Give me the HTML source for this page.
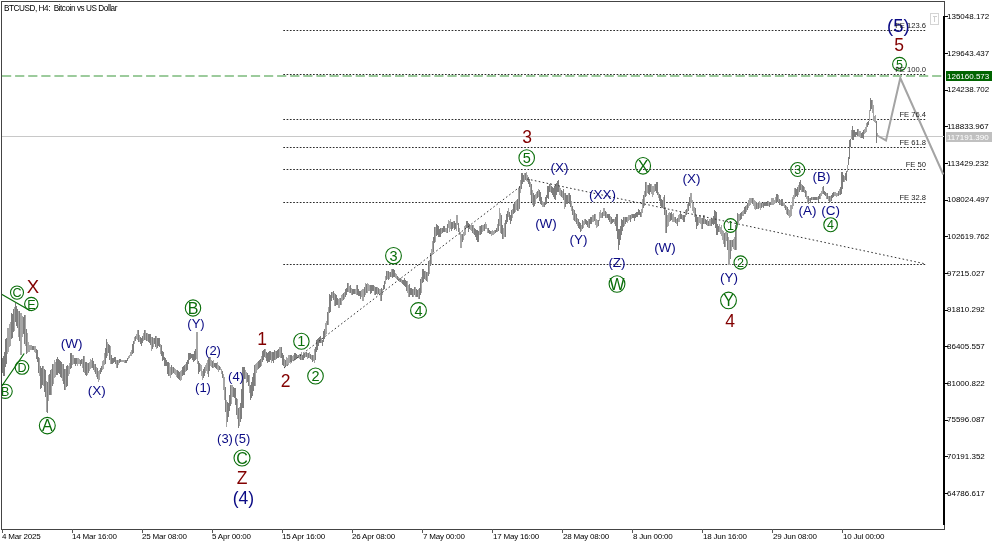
<!DOCTYPE html><html><head><meta charset="utf-8"><style>
*{margin:0;padding:0;box-sizing:border-box}
html,body{width:1000px;height:545px;overflow:hidden;background:#fff;font-family:"Liberation Sans",sans-serif}
.a{position:absolute;white-space:nowrap;line-height:1;will-change:transform}
.ax{font-size:8px;color:#000}
.nv{color:#0c0c86;font-size:13px}
.rd{color:#7d0000;font-size:17.5px}
.cg{position:absolute;border:1px solid #0a700a;border-radius:50%;color:#0a700a;text-align:center}
</style></head><body>
<svg width="1000" height="545" style="position:absolute;left:0;top:0;will-change:transform" shape-rendering="crispEdges">
<path d="M1.5 1.5H944.5V529.5H1.5Z" fill="none" stroke="#444" stroke-width="1"/>
<path d="M944 16V525" stroke="#000" stroke-width="2"/>
<path d="M945 16.5H948" stroke="#000" stroke-width="1"/>
<path d="M945 53.5H948" stroke="#000" stroke-width="1"/>
<path d="M945 90.5H948" stroke="#000" stroke-width="1"/>
<path d="M945 126.5H948" stroke="#000" stroke-width="1"/>
<path d="M945 163.5H948" stroke="#000" stroke-width="1"/>
<path d="M945 200.5H948" stroke="#000" stroke-width="1"/>
<path d="M945 236.5H948" stroke="#000" stroke-width="1"/>
<path d="M945 273.5H948" stroke="#000" stroke-width="1"/>
<path d="M945 310.5H948" stroke="#000" stroke-width="1"/>
<path d="M945 346.5H948" stroke="#000" stroke-width="1"/>
<path d="M945 383.5H948" stroke="#000" stroke-width="1"/>
<path d="M945 420.5H948" stroke="#000" stroke-width="1"/>
<path d="M945 456.5H948" stroke="#000" stroke-width="1"/>
<path d="M945 493.5H948" stroke="#000" stroke-width="1"/>
<path d="M2.5 529V532.5" stroke="#555" stroke-width="1"/>
<path d="M72.5 529V532.5" stroke="#555" stroke-width="1"/>
<path d="M142.5 529V532.5" stroke="#555" stroke-width="1"/>
<path d="M212.5 529V532.5" stroke="#555" stroke-width="1"/>
<path d="M282.5 529V532.5" stroke="#555" stroke-width="1"/>
<path d="M352.5 529V532.5" stroke="#555" stroke-width="1"/>
<path d="M422.5 529V532.5" stroke="#555" stroke-width="1"/>
<path d="M492.5 529V532.5" stroke="#555" stroke-width="1"/>
<path d="M562.5 529V532.5" stroke="#555" stroke-width="1"/>
<path d="M632.5 529V532.5" stroke="#555" stroke-width="1"/>
<path d="M702.5 529V532.5" stroke="#555" stroke-width="1"/>
<path d="M772.5 529V532.5" stroke="#555" stroke-width="1"/>
<path d="M842.5 529V532.5" stroke="#555" stroke-width="1"/>
<path d="M2 136.5H944" stroke="#c8c8c8" stroke-width="1"/>
<path d="M2 76H944" stroke="#9ccb9c" stroke-width="2" stroke-dasharray="9.2 3.9" shape-rendering="auto"/>
<path d="M283.3 30.5H926" stroke="#2c2c2c" stroke-width="1" stroke-dasharray="1.7 1.6" shape-rendering="auto"/>
<path d="M283.3 74.5H926" stroke="#2c2c2c" stroke-width="1" stroke-dasharray="1.7 1.6" shape-rendering="auto"/>
<path d="M283.3 119.5H926" stroke="#2c2c2c" stroke-width="1" stroke-dasharray="1.7 1.6" shape-rendering="auto"/>
<path d="M283.3 147.5H926" stroke="#2c2c2c" stroke-width="1" stroke-dasharray="1.7 1.6" shape-rendering="auto"/>
<path d="M283.3 169.5H926" stroke="#2c2c2c" stroke-width="1" stroke-dasharray="1.7 1.6" shape-rendering="auto"/>
<path d="M283.3 202.5H926" stroke="#2c2c2c" stroke-width="1" stroke-dasharray="1.7 1.6" shape-rendering="auto"/>
<path d="M283.3 264.5H926" stroke="#2c2c2c" stroke-width="1" stroke-dasharray="1.7 1.6" shape-rendering="auto"/>
<path d="M2.5 357.9V373.4M3.5 356.4V375.6M4.5 352.4V375.6M5.5 338.6V366.6M6.5 337.6V363.6M11.5 313.1V338.9M12.5 313.9V337.8M13.5 309.4V332.1M15.5 303.4V321.6M16.5 306.3V325.6M17.5 309.4V328.4M19.5 311.4V341.1M23.5 316.9V333.9M24.5 315.4V343.6M26.5 328.9V354.4M32.5 346.1V349.6M33.5 346.4V350.1M36.5 349.4V358.6M37.5 350.4V362.1M38.5 357.1V372.6M40.5 366.1V389.0M41.5 367.9V387.6M42.5 366.4V384.6M44.5 369.4V391.6M45.5 370.4V396.6M47.5 382.1V412.9M49.5 374.1V394.6M50.5 370.4V394.6M52.5 364.4V386.4M56.5 359.4V375.1M57.5 357.4V374.6M58.5 358.8V373.1M59.5 360.4V373.6M60.5 360.6V376.6M61.5 362.4V377.6M63.5 364.4V384.3M64.5 368.9V389.6M66.5 366.4V386.6M67.5 365.2V385.6M70.5 353.4V368.9M71.5 353.4V367.6M74.5 357.6V363.6M75.5 358.4V365.8M76.5 358.4V363.6M80.5 359.8V365.8M81.5 359.3V364.1M83.5 355.9V372.4M85.5 361.6V374.6M86.5 362.4V376.0M88.5 363.0V372.6M92.5 358.4V368.0M93.5 361.1V370.0M95.5 364.1V373.7M97.5 368.4V379.1M100.5 368.4V374.1M101.5 366.4V372.1M105.5 347.5V364.1M106.5 339.4V358.0M108.5 344.4V353.3M109.5 345.2V360.0M111.5 354.6V364.1M112.5 358.4V364.1M113.5 358.4V362.6M114.5 356.7V361.6M115.5 356.8V364.0M117.5 359.8V367.6M119.5 359.2V362.6M120.5 359.4V362.3M125.5 360.3V363.3M126.5 359.5V363.3M127.5 357.8V361.0M132.5 344.4V354.2M133.5 340.6V352.6M135.5 336.1V341.1M138.5 330.4V341.8M140.5 337.1V343.8M141.5 337.9V345.6M142.5 335.5V343.1M144.5 330.0V340.1M146.5 332.7V340.5M148.5 333.7V341.7M149.5 334.1V342.6M150.5 334.4V344.6M152.5 336.9V349.3M154.5 337.7V343.9M155.5 336.0V346.5M157.5 338.4V347.5M158.5 338.4V345.5M159.5 338.4V347.2M161.5 345.2V355.7M162.5 351.0V361.0M163.5 352.1V360.1M164.5 357.2V365.6M165.5 358.4V366.1M166.5 359.8V366.1M167.5 361.8V374.1M168.5 361.8V375.6M171.5 364.6V374.7M173.5 366.9V373.4M177.5 369.9V377.8M178.5 370.9V379.2M179.5 372.4V379.5M182.5 366.9V376.4M183.5 366.3V375.1M184.5 364.8V374.6M186.5 361.8V370.8M187.5 360.4V370.1M188.5 352.7V363.6M189.5 352.7V360.0M190.5 353.3V358.8M191.5 353.7V358.4M192.5 354.2V360.4M193.5 354.3V362.0M194.5 350.8V360.8M195.5 348.5V360.0M198.5 360.8V374.1M199.5 362.5V371.9M203.5 368.7V378.1M204.5 366.6V376.2M208.5 357.8V377.2M209.5 357.1V371.4M212.5 360.8V368.1M214.5 362.8V367.1M215.5 362.8V368.1M216.5 362.8V369.1M219.5 365.8V370.1M222.5 370.7V378.2M225.5 386.7V412.2M227.5 402.1V422.1M228.5 403.1V417.1M229.5 395.3V411.4M230.5 385.0V405.6M233.5 387.1V397.2M234.5 388.0V398.4M235.5 388.1V404.9M236.5 398.0V414.6M238.5 408.2V427.9M240.5 403.2V422.0M241.5 389.4V418.6M242.5 366.9V408.4M243.5 366.9V408.1M244.5 366.9V378.5M247.5 372.9V382.4M248.5 374.6V386.3M250.5 384.7V400.4M251.5 381.8V398.4M252.5 376.7V396.4M253.5 373.0V391.4M254.5 364.8V386.3M258.5 360.8V368.5M259.5 360.1V368.1M260.5 358.8V366.5M262.5 350.7V361.5M263.5 350.2V360.0M264.5 348.7V357.0M266.5 351.5V360.7M267.5 352.8V363.2M268.5 352.1V361.6M269.5 351.1V361.6M270.5 351.1V360.0M272.5 351.9V361.3M273.5 351.8V362.5M274.5 350.1V360.3M276.5 350.5V359.0M277.5 349.9V358.2M278.5 349.2V357.6M281.5 347.4V358.0M282.5 352.9V365.0M283.5 354.8V365.5M285.5 359.8V366.6M290.5 355.4V362.4M291.5 354.8V361.7M294.5 353.0V359.9M295.5 353.0V359.6M296.5 354.0V358.5M298.5 354.5V358.3M300.5 353.9V359.6M302.5 354.6V359.6M303.5 354.3V359.6M304.5 353.4V358.2M306.5 352.1V357.0M308.5 352.9V357.6M310.5 354.2V359.0M312.5 354.8V361.6M315.5 346.9V359.6M316.5 340.1V352.3M317.5 339.4V350.3M318.5 338.2V346.0M319.5 337.4V343.0M320.5 336.4V342.7M322.5 339.5V346.4M323.5 331.0V341.5M324.5 328.6V339.3M327.5 312.4V325.0M329.5 294.1V313.0M330.5 294.5V311.8M331.5 292.4V300.7M333.5 290.6V300.1M335.5 294.2V306.3M336.5 295.1V305.0M337.5 297.9V305.4M340.5 297.9V305.0M343.5 293.3V299.9M345.5 288.7V296.8M346.5 287.6V295.3M347.5 283.2V292.1M350.5 284.9V293.0M352.5 289.4V294.6M353.5 289.4V294.2M354.5 289.4V293.9M357.5 285.2V294.8M358.5 289.2V295.6M359.5 291.4V295.8M360.5 291.4V298.8M364.5 286.8V296.9M366.5 284.0V293.4M370.5 285.2V294.1M371.5 285.2V292.6M372.5 285.2V291.4M373.5 285.2V291.0M375.5 287.2V294.6M376.5 287.2V293.5M378.5 288.4V293.8M381.5 287.8V300.6M383.5 284.8V290.4M384.5 280.7V288.5M386.5 271.1V280.4M388.5 271.1V280.0M390.5 272.1V277.4M392.5 269.1V278.1M393.5 269.1V276.8M394.5 269.9V277.4M397.5 276.0V280.3M400.5 278.1V282.4M402.5 279.7V284.4M403.5 280.2V284.7M404.5 277.8V285.5M405.5 280.2V286.8M406.5 280.9V290.5M409.5 284.3V296.6M410.5 287.6V295.2M411.5 288.2V295.0M412.5 288.9V296.6M414.5 287.2V295.3M416.5 289.2V296.6M417.5 290.1V296.9M419.5 287.7V298.6M420.5 279.2V294.7M422.5 269.1V282.7M423.5 269.1V282.0M424.5 270.8V278.8M426.5 272.4V281.2M428.5 260.7V276.4M430.5 252.8V266.3M433.5 237.1V252.2M434.5 226.7V242.5M436.5 224.3V235.9M437.5 225.4V235.2M438.5 226.3V236.7M439.5 228.8V236.7M440.5 227.7V236.7M442.5 227.6V233.1M443.5 226.3V231.5M444.5 226.3V231.7M447.5 223.6V232.5M451.5 222.2V231.0M452.5 222.3V228.5M454.5 220.9V229.5M455.5 222.6V229.3M458.5 222.8V232.0M462.5 233.8V242.4M466.5 220.9V228.4M467.5 220.9V228.4M468.5 222.8V231.5M469.5 223.7V229.3M472.5 224.5V233.1M474.5 228.2V235.0M475.5 229.3V236.7M476.5 230.0V239.5M477.5 229.8V242.2M478.5 230.7V242.2M480.5 225.7V235.0M481.5 224.5V233.9M484.5 224.4V231.2M488.5 228.2V233.4M489.5 229.9V234.0M490.5 230.7V234.2M495.5 229.5V233.1M496.5 228.2V232.2M498.5 219.0V231.2M501.5 215.3V234.0M502.5 224.6V238.7M505.5 219.7V236.7M506.5 213.5V223.7M507.5 211.1V222.1M509.5 211.9V220.4M510.5 215.0V223.8M511.5 209.8V220.5M513.5 204.3V214.4M514.5 203.4V212.8M517.5 198.8V211.1M519.5 186.4V209.2M521.5 173.2V189.1M522.5 173.2V183.6M523.5 174.6V182.1M525.5 173.2V180.1M528.5 176.7V184.1M529.5 178.5V187.2M531.5 184.2V202.1M533.5 193.3V207.3M534.5 194.6V206.1M537.5 191.0V198.2M539.5 189.8V200.7M540.5 191.8V203.7M541.5 197.0V205.1M544.5 201.9V207.3M545.5 197.0V204.9M546.5 194.6V203.7M547.5 186.0V198.0M548.5 185.5V198.6M549.5 184.2V191.7M551.5 185.9V192.7M552.5 186.9V194.5M553.5 187.7V196.5M554.5 185.8V198.5M555.5 184.0V200.1M556.5 182.8V194.6M557.5 181.4V192.0M558.5 179.5V191.5M561.5 189.8V196.5M563.5 189.2V199.7M565.5 193.3V207.3M566.5 194.9V204.3M567.5 194.5V203.7M569.5 193.3V204.3M570.5 195.2V207.3M572.5 206.2V215.2M574.5 209.8V220.5M576.5 213.5V224.3M578.5 219.0V228.2M579.5 222.4V229.3M580.5 222.8V231.7M582.5 220.1V229.2M585.5 219.0V224.1M586.5 220.2V224.9M587.5 220.8V227.3M589.5 218.8V227.6M590.5 217.2V223.8M591.5 216.8V224.0M594.5 213.5V220.5M598.5 220.4V225.7M602.5 212.3V218.3M605.5 211.3V218.3M607.5 213.5V218.3M608.5 213.5V220.2M609.5 213.5V222.2M611.5 217.2V223.8M612.5 218.5V222.6M613.5 219.0V222.4M615.5 217.2V226.3M616.5 213.5V231.2M617.5 213.5V239.0M618.5 229.2V249.6M619.5 229.2V245.0M620.5 226.4V240.3M621.5 219.3V234.8M622.5 220.4V231.2M623.5 217.2V227.4M625.5 217.2V223.5M626.5 217.2V222.1M630.5 214.5V221.8M632.5 213.5V218.3M633.5 213.5V218.3M634.5 213.5V220.6M635.5 213.0V218.3M636.5 212.3V217.2M637.5 211.6V216.6M638.5 208.6V215.4M639.5 209.8V214.9M640.5 212.3V216.6M643.5 195.2V207.5M645.5 182.3V197.4M648.5 185.1V193.7M649.5 183.0V194.6M650.5 184.2V192.3M655.5 183.6V191.4M656.5 182.3V192.7M657.5 182.3V195.1M659.5 193.5V201.0M660.5 195.2V205.6M661.5 198.6V207.3M662.5 200.1V207.6M664.5 194.8V215.4M666.5 209.8V233.1M670.5 212.6V221.1M671.5 211.8V220.4M675.5 217.2V222.5M677.5 217.8V225.5M680.5 211.8V218.5M681.5 213.6V219.3M683.5 215.3V222.1M684.5 214.5V222.1M686.5 208.6V214.7M688.5 201.9V211.1M689.5 197.0V206.2M695.5 208.0V222.0M696.5 215.3V229.3M697.5 216.5V225.9M702.5 217.7V229.3M703.5 215.3V224.4M705.5 219.0V223.8M706.5 220.1V224.9M708.5 220.9V225.7M711.5 219.0V225.7M712.5 218.7V224.1M713.5 215.8V224.9M714.5 209.8V224.3M715.5 211.4V227.6M716.5 211.8V234.8M717.5 224.3V234.8M718.5 226.3V232.4M724.5 233.3V246.7M727.5 232.8V249.8M730.5 240.0V258.6M732.5 240.0V246.8M735.5 225.3V250.3M737.5 212.5V224.7M740.5 212.5V219.8M741.5 212.2V219.2M744.5 207.0V213.9M745.5 206.3V213.7M747.5 202.5V210.0M752.5 197.8V203.5M756.5 201.5V208.5M758.5 203.3V208.6M761.5 203.3V208.2M763.5 203.2V207.6M764.5 202.4V205.7M765.5 202.4V205.5M766.5 202.9V205.8M767.5 200.6V205.5M769.5 202.3V207.3M770.5 201.5V204.8M776.5 194.2V201.8M777.5 193.9V201.8M779.5 198.5V204.6M781.5 199.2V206.3M782.5 199.1V206.3M785.5 205.1V210.1M787.5 207.0V214.7M795.5 187.8V197.2M796.5 188.6V195.5M797.5 187.1V197.1M799.5 181.5V191.5M800.5 180.0V190.0M802.5 185.0V191.7M803.5 186.3V191.7M805.5 189.9V197.2M808.5 196.0V204.0M810.5 197.8V202.7M811.5 197.4V200.3M813.5 196.6V199.6M814.5 196.6V199.5M815.5 197.1V199.7M816.5 197.2V199.6M818.5 195.9V201.7M819.5 194.2V198.8M823.5 186.4V193.9M824.5 191.0V194.8M825.5 191.7V195.7M827.5 192.9V198.6M829.5 196.3V202.5M831.5 194.5V200.5M832.5 192.9V197.6M833.5 192.3V196.8M838.5 190.5V195.5M840.5 186.5V194.8M841.5 172.3V193.6M842.5 172.3V188.5M843.5 175.0V181.8M845.5 172.7V180.3M846.5 171.2V180.7M848.5 157.1V165.3M849.5 140.3V159.0M850.5 138.8V147.3M852.5 125.5V140.3M853.5 129.9V140.3M854.5 129.7V137.1M855.5 132.2V137.1M856.5 132.2V134.8M857.5 129.0V136.0M861.5 133.2V138.2M862.5 132.2V138.2M863.5 129.9V138.7M867.5 122.3V127.1M868.5 121.1V125.1M870.5 98.0V110.5M871.5 99.8V108.6M876.5 121.1V142.6" stroke="#7e7e7e" stroke-width="1" fill="none"/><path d="M7.5 327.7V353.9M8.5 328.1V352.0M9.5 324.4V346.9M10.5 322.1V345.6M14.5 307.4V330.6M18.5 310.9V336.6M20.5 312.9V354.6M21.5 313.4V354.6M22.5 316.4V336.6M25.5 315.4V345.9M27.5 333.4V352.6M28.5 342.4V351.9M29.5 345.4V351.6M30.5 345.4V350.1M31.5 345.4V349.6M34.5 346.4V351.6M35.5 346.4V353.4M39.5 358.3V376.4M43.5 366.4V385.6M46.5 380.9V411.6M48.5 375.4V400.6M51.5 368.9V394.6M53.5 363.9V383.6M54.5 360.0V378.4M55.5 361.6V376.6M62.5 363.9V380.6M65.5 369.4V389.6M68.5 366.4V375.9M69.5 363.1V373.7M72.5 354.9V364.6M73.5 355.4V363.6M77.5 358.4V365.9M78.5 358.4V363.7M79.5 359.2V363.9M82.5 358.6V367.5M84.5 355.9V373.1M87.5 363.1V375.0M89.5 362.2V370.6M90.5 359.4V369.3M91.5 359.8V368.4M94.5 363.5V372.4M96.5 367.1V376.6M98.5 371.2V381.6M99.5 369.8V380.0M102.5 360.9V370.1M103.5 360.4V369.1M104.5 353.4V364.7M107.5 341.7V355.6M110.5 346.4V364.1M116.5 359.6V367.6M118.5 359.5V364.6M121.5 359.6V362.0M122.5 359.5V362.1M123.5 359.6V362.4M124.5 360.2V362.6M128.5 355.9V359.4M129.5 354.5V357.9M130.5 352.4V356.4M131.5 350.0V355.6M134.5 336.9V344.4M136.5 333.5V339.3M137.5 330.4V340.3M139.5 335.2V341.6M143.5 333.3V341.1M145.5 330.4V339.9M147.5 333.3V341.1M151.5 336.6V351.0M153.5 337.5V346.5M156.5 335.9V349.3M160.5 344.0V354.2M169.5 363.4V376.2M170.5 366.9V378.0M172.5 366.9V373.7M174.5 368.4V374.1M175.5 368.9V374.9M176.5 369.6V377.2M180.5 370.9V381.4M181.5 369.9V380.2M185.5 364.1V372.1M196.5 332.4V358.6M197.5 332.4V364.2M200.5 363.8V370.7M201.5 365.4V375.7M202.5 370.7V380.2M205.5 364.6V372.9M206.5 362.5V370.5M207.5 360.0V374.1M210.5 356.5V366.1M211.5 359.8V367.1M213.5 359.6V367.6M217.5 362.4V369.6M218.5 364.8V372.3M220.5 366.8V370.1M221.5 368.7V373.8M223.5 373.6V389.6M224.5 376.6V400.4M226.5 399.9V426.6M231.5 385.0V404.4M232.5 385.2V397.2M237.5 399.2V419.1M239.5 406.9V425.6M245.5 369.9V379.2M246.5 372.2V382.6M249.5 374.9V392.5M255.5 364.1V385.8M256.5 362.8V373.0M257.5 362.1V370.1M261.5 356.4V366.1M265.5 348.7V357.6M271.5 351.6V362.9M275.5 351.1V359.7M279.5 347.0V356.8M280.5 347.4V357.8M284.5 359.4V366.6M286.5 357.0V365.6M287.5 358.4V365.0M288.5 354.9V364.1M289.5 354.8V363.2M292.5 355.8V361.3M293.5 354.6V360.5M297.5 354.7V357.7M299.5 354.1V359.0M301.5 352.4V359.6M305.5 352.1V357.2M307.5 352.6V358.7M309.5 351.8V358.3M311.5 354.8V359.7M313.5 354.8V361.3M314.5 349.4V362.5M321.5 338.2V343.0M325.5 323.4V335.4M326.5 320.5V333.8M328.5 306.9V325.1M332.5 291.5V298.1M334.5 292.8V306.3M338.5 299.3V308.1M339.5 297.6V308.1M341.5 295.2V304.5M342.5 294.2V301.0M344.5 292.1V299.0M348.5 283.2V292.0M349.5 285.5V292.6M351.5 288.4V294.6M355.5 288.7V293.8M356.5 285.2V294.6M361.5 290.0V297.2M362.5 289.4V300.6M363.5 288.8V300.6M365.5 283.2V294.6M367.5 283.2V292.6M368.5 284.4V291.4M369.5 285.2V290.8M374.5 286.4V295.3M377.5 287.2V295.0M379.5 289.2V295.1M380.5 289.2V300.6M382.5 288.8V295.1M385.5 275.9V284.3M387.5 271.1V279.4M389.5 271.6V279.3M391.5 269.3V277.0M395.5 273.0V278.4M396.5 273.6V279.4M398.5 277.0V281.4M399.5 277.6V281.9M401.5 278.9V283.2M407.5 281.2V293.0M408.5 284.8V296.6M413.5 288.9V296.6M415.5 287.2V297.4M418.5 289.2V298.6M421.5 277.3V292.6M425.5 271.1V279.6M427.5 271.8V282.4M429.5 259.9V274.3M431.5 249.2V264.2M432.5 240.8V254.6M435.5 227.1V242.2M441.5 228.2V233.8M445.5 227.5V232.4M446.5 228.2V233.1M448.5 219.9V227.8M449.5 220.6V231.5M450.5 219.4V229.3M453.5 220.9V227.7M456.5 215.3V230.6M457.5 215.3V225.2M459.5 228.1V234.7M460.5 231.9V247.7M461.5 233.8V247.7M463.5 231.8V240.3M464.5 226.3V236.0M465.5 224.5V234.8M470.5 224.5V229.5M471.5 224.5V231.2M473.5 225.2V234.0M479.5 226.3V235.1M482.5 224.5V232.4M483.5 224.5V231.2M485.5 221.7V228.5M486.5 223.7V229.1M487.5 227.5V233.1M491.5 231.3V235.6M492.5 230.1V234.8M493.5 231.2V235.4M494.5 230.0V233.5M497.5 224.0V231.5M499.5 208.0V226.1M500.5 212.5V233.1M503.5 228.1V238.7M504.5 222.8V237.1M508.5 208.0V216.6M512.5 208.9V218.3M515.5 200.8V212.3M516.5 200.1V209.8M518.5 187.8V211.1M520.5 180.3V192.8M524.5 173.3V181.7M526.5 172.1V180.6M527.5 174.9V181.7M530.5 181.5V194.5M532.5 189.5V205.0M535.5 194.4V203.7M536.5 191.5V199.4M538.5 188.6V196.6M542.5 200.8V206.5M543.5 201.8V207.0M550.5 182.9V191.6M559.5 186.0V194.6M560.5 188.1V195.6M562.5 190.9V198.2M564.5 192.8V208.7M568.5 193.3V202.0M571.5 201.4V211.4M573.5 208.5V220.2M575.5 212.5V222.1M577.5 218.1V225.7M581.5 224.5V231.2M583.5 220.7V227.6M584.5 219.0V225.2M588.5 219.0V227.6M592.5 215.3V222.1M593.5 214.8V222.1M595.5 213.5V225.4M596.5 218.8V227.6M597.5 220.0V226.6M599.5 211.8V221.2M600.5 210.1V218.3M601.5 213.0V218.3M603.5 208.0V215.5M604.5 208.0V215.9M606.5 211.8V218.3M610.5 215.8V223.8M614.5 219.0V223.8M624.5 217.2V225.7M627.5 216.5V222.5M628.5 215.3V220.7M629.5 215.2V220.2M631.5 213.5V218.6M641.5 209.0V216.6M642.5 198.6V212.8M644.5 190.9V205.6M646.5 182.3V196.3M647.5 185.0V192.7M651.5 184.2V193.8M652.5 185.5V196.9M653.5 185.6V194.6M654.5 184.2V191.6M658.5 191.5V198.2M663.5 197.0V209.2M665.5 207.2V233.1M667.5 214.7V226.5M668.5 212.6V225.7M669.5 211.6V222.1M672.5 213.9V222.1M673.5 213.3V222.1M674.5 216.7V222.1M676.5 218.7V223.8M678.5 215.3V222.3M679.5 213.8V222.1M682.5 215.3V220.4M685.5 209.8V217.0M687.5 204.3V211.8M690.5 193.3V207.9M691.5 193.3V203.4M692.5 200.0V211.1M693.5 202.5V212.5M694.5 206.9V216.6M698.5 216.9V224.9M699.5 215.3V222.6M700.5 215.3V224.1M701.5 218.4V229.3M704.5 215.3V223.8M707.5 218.7V225.7M709.5 219.1V225.7M710.5 219.0V225.7M719.5 224.2V231.8M720.5 227.1V233.8M721.5 225.3V236.2M722.5 229.7V240.0M723.5 230.9V243.5M725.5 232.2V246.7M726.5 231.3V241.0M728.5 237.3V265.0M729.5 240.0V265.0M731.5 240.0V251.2M733.5 239.0V248.8M734.5 236.8V250.3M736.5 221.4V250.3M738.5 213.6V222.5M739.5 214.1V221.1M742.5 210.8V216.3M743.5 209.5V215.6M746.5 205.2V211.9M748.5 199.6V208.2M749.5 197.8V206.0M750.5 197.8V204.6M751.5 197.8V203.3M753.5 197.5V206.3M754.5 199.8V209.1M755.5 201.3V210.1M757.5 203.3V209.1M759.5 201.1V208.2M760.5 203.3V210.0M762.5 203.3V206.9M768.5 200.5V205.5M771.5 198.0V204.6M772.5 197.8V204.6M773.5 197.8V204.6M774.5 199.6V203.6M775.5 197.1V202.7M778.5 195.0V202.1M780.5 199.8V204.9M783.5 203.1V206.3M784.5 203.3V207.8M786.5 206.1V214.2M788.5 209.1V216.2M789.5 210.3V218.2M790.5 204.9V216.5M791.5 205.1V215.6M792.5 196.6V208.8M793.5 195.0V206.3M794.5 187.8V198.7M798.5 185.0V194.8M801.5 184.1V191.7M804.5 186.8V193.2M806.5 190.5V199.2M807.5 195.5V202.7M809.5 197.8V200.8M812.5 197.1V199.9M817.5 196.8V200.0M820.5 193.1V198.7M821.5 191.4V196.2M822.5 187.0V194.4M826.5 192.7V198.5M828.5 196.4V200.7M830.5 195.5V201.6M834.5 191.7V196.2M835.5 192.3V196.2M836.5 192.9V197.2M837.5 192.9V195.8M839.5 189.2V195.0M844.5 176.1V181.6M847.5 165.3V171.7M851.5 129.9V138.6M858.5 129.2V136.0M859.5 131.0V137.1M860.5 131.0V138.2M864.5 129.4V133.7M865.5 126.9V133.3M866.5 123.3V131.5M869.5 110.1V120.5M872.5 100.2V112.8M873.5 104.6V120.7M874.5 115.6V121.7M875.5 115.0V122.7M877.5 133.3V137.1" stroke="#a6a6a6" stroke-width="1" fill="none"/>
<path d="M1.6 294.3L30.3 310.8M1.5 386.5L24.2 353.5" stroke="#0a6e0a" stroke-width="1.3" fill="none" shape-rendering="auto"/>
<path d="M284 368L521 186M527 179L926 264" stroke="#333" stroke-width="1" stroke-dasharray="1.6 2.4" fill="none" shape-rendering="auto"/>
<path d="M877.2 135.5L886 140.4L900.3 78L943.3 174.5" stroke="#a4a4a4" stroke-width="2" fill="none" shape-rendering="auto"/>
<g font-family="Liberation Sans" shape-rendering="auto" style="will-change:transform"><text x="71.7" y="348.1" font-size="13.5" fill="#0a0a84" text-anchor="middle">(W)</text>
<text x="96.8" y="394.9" font-size="13.5" fill="#0a0a84" text-anchor="middle">(X)</text>
<text x="196" y="327.5" font-size="13" fill="#0a0a84" text-anchor="middle">(Y)</text>
<text x="213" y="355.0" font-size="13" fill="#0a0a84" text-anchor="middle">(2)</text>
<text x="203" y="392.0" font-size="13" fill="#0a0a84" text-anchor="middle">(1)</text>
<text x="236" y="380.5" font-size="13" fill="#0a0a84" text-anchor="middle">(4)</text>
<text x="225" y="443.0" font-size="13" fill="#0a0a84" text-anchor="middle">(3)</text>
<text x="242.3" y="443.0" font-size="13" fill="#0a0a84" text-anchor="middle">(5)</text>
<text x="243.4" y="504.0" font-size="17.5" fill="#0a0a84" text-anchor="middle">(4)</text>
<text x="559.5" y="172.1" font-size="13.5" fill="#0a0a84" text-anchor="middle">(X)</text>
<text x="546" y="228.1" font-size="13.5" fill="#0a0a84" text-anchor="middle">(W)</text>
<text x="578.5" y="244.1" font-size="13.5" fill="#0a0a84" text-anchor="middle">(Y)</text>
<text x="602.5" y="199.1" font-size="13.5" fill="#0a0a84" text-anchor="middle">(XX)</text>
<text x="691.5" y="182.7" font-size="13.5" fill="#0a0a84" text-anchor="middle">(X)</text>
<text x="617" y="267.1" font-size="13.5" fill="#0a0a84" text-anchor="middle">(Z)</text>
<text x="665" y="252.1" font-size="13.5" fill="#0a0a84" text-anchor="middle">(W)</text>
<text x="729" y="282.1" font-size="13.5" fill="#0a0a84" text-anchor="middle">(Y)</text>
<text x="807.5" y="215.1" font-size="13.5" fill="#0a0a84" text-anchor="middle">(A)</text>
<text x="821.5" y="181.1" font-size="13.5" fill="#0a0a84" text-anchor="middle">(B)</text>
<text x="830.6" y="215.1" font-size="13.5" fill="#0a0a84" text-anchor="middle">(C)</text>
<text x="898.4" y="31.8" font-size="18.5" fill="#0a0a84" text-anchor="middle">(5)</text>
<text x="33" y="292.6" font-size="18.5" fill="#820000" text-anchor="middle">X</text>
<text x="242" y="484.3" font-size="17.5" fill="#820000" text-anchor="middle">Z</text>
<text x="262" y="345.3" font-size="17.5" fill="#820000" text-anchor="middle">1</text>
<text x="285.5" y="386.9" font-size="17.5" fill="#820000" text-anchor="middle">2</text>
<text x="527" y="142.6" font-size="17.5" fill="#820000" text-anchor="middle">3</text>
<text x="730" y="327.3" font-size="17.5" fill="#820000" text-anchor="middle">4</text>
<text x="899" y="51.3" font-size="17.5" fill="#820000" text-anchor="middle">5</text>
<ellipse cx="17" cy="292.6" rx="6.5" ry="6.6" fill="none" stroke="#0a6e0a" stroke-width="1.1"/>
<text x="17" y="297.1" font-size="12.5" fill="#0a6e0a" text-anchor="middle">C</text>
<ellipse cx="31.3" cy="304" rx="6.7" ry="6.6" fill="none" stroke="#0a6e0a" stroke-width="1.1"/>
<text x="31.3" y="308.5" font-size="12.5" fill="#0a6e0a" text-anchor="middle">E</text>
<ellipse cx="22" cy="367.4" rx="6.8" ry="6.85" fill="none" stroke="#0a6e0a" stroke-width="1.1"/>
<text x="22" y="371.9" font-size="12.5" fill="#0a6e0a" text-anchor="middle">D</text>
<ellipse cx="5.25" cy="391.3" rx="7" ry="7.1" fill="none" stroke="#0a6e0a" stroke-width="1.1"/>
<text x="5.25" y="395.8" font-size="12.5" fill="#0a6e0a" text-anchor="middle">B</text>
<ellipse cx="47.3" cy="425.6" rx="7.95" ry="8.25" fill="none" stroke="#0a6e0a" stroke-width="1.1"/>
<text x="47.3" y="431.3" font-size="16" fill="#0a6e0a" text-anchor="middle">A</text>
<ellipse cx="193" cy="308" rx="7.7" ry="8.1" fill="none" stroke="#0a6e0a" stroke-width="1.1"/>
<text x="193" y="313.7" font-size="16" fill="#0a6e0a" text-anchor="middle">B</text>
<ellipse cx="242" cy="458" rx="8" ry="8" fill="none" stroke="#0a6e0a" stroke-width="1.1"/>
<text x="242" y="463.7" font-size="16" fill="#0a6e0a" text-anchor="middle">C</text>
<ellipse cx="301.4" cy="341.2" rx="7.7" ry="8" fill="none" stroke="#0a6e0a" stroke-width="1.1"/>
<text x="301.4" y="346.4" font-size="14.5" fill="#0a6e0a" text-anchor="middle">1</text>
<ellipse cx="315.5" cy="376" rx="7.8" ry="8" fill="none" stroke="#0a6e0a" stroke-width="1.1"/>
<text x="315.5" y="381.2" font-size="14.5" fill="#0a6e0a" text-anchor="middle">2</text>
<ellipse cx="393.5" cy="255.7" rx="7.9" ry="8.2" fill="none" stroke="#0a6e0a" stroke-width="1.1"/>
<text x="393.5" y="260.9" font-size="14.5" fill="#0a6e0a" text-anchor="middle">3</text>
<ellipse cx="418.5" cy="310.4" rx="7.9" ry="7.8" fill="none" stroke="#0a6e0a" stroke-width="1.1"/>
<text x="418.5" y="315.6" font-size="14.5" fill="#0a6e0a" text-anchor="middle">4</text>
<ellipse cx="526.7" cy="157.9" rx="7.75" ry="8.1" fill="none" stroke="#0a6e0a" stroke-width="1.1"/>
<text x="526.7" y="163.1" font-size="14.5" fill="#0a6e0a" text-anchor="middle">5</text>
<ellipse cx="643" cy="165.8" rx="7.55" ry="8.3" fill="none" stroke="#0a6e0a" stroke-width="1.1"/>
<text x="643" y="171.5" font-size="16" fill="#0a6e0a" text-anchor="middle">X</text>
<ellipse cx="617" cy="284" rx="7.9" ry="8.2" fill="none" stroke="#0a6e0a" stroke-width="1.1"/>
<text x="617" y="289.7" font-size="16" fill="#0a6e0a" text-anchor="middle">W</text>
<ellipse cx="730.6" cy="225.5" rx="6.5" ry="6.85" fill="none" stroke="#0a6e0a" stroke-width="1.1"/>
<text x="730.6" y="230.0" font-size="12.5" fill="#0a6e0a" text-anchor="middle">1</text>
<ellipse cx="740.6" cy="262.5" rx="6.6" ry="6.65" fill="none" stroke="#0a6e0a" stroke-width="1.1"/>
<text x="740.6" y="267.0" font-size="12.5" fill="#0a6e0a" text-anchor="middle">2</text>
<ellipse cx="728.5" cy="300.4" rx="7.9" ry="8.3" fill="none" stroke="#0a6e0a" stroke-width="1.1"/>
<text x="728.5" y="306.1" font-size="16" fill="#0a6e0a" text-anchor="middle">Y</text>
<ellipse cx="797.7" cy="169.5" rx="7" ry="7" fill="none" stroke="#0a6e0a" stroke-width="1.1"/>
<text x="797.7" y="174.0" font-size="12.5" fill="#0a6e0a" text-anchor="middle">3</text>
<ellipse cx="830.6" cy="224.7" rx="6.8" ry="7" fill="none" stroke="#0a6e0a" stroke-width="1.1"/>
<text x="830.6" y="229.2" font-size="12.5" fill="#0a6e0a" text-anchor="middle">4</text>
<ellipse cx="899.5" cy="64.2" rx="6.9" ry="6.8" fill="none" stroke="#0a6e0a" stroke-width="1.1"/>
<text x="899.5" y="68.7" font-size="12.5" fill="#0a6e0a" text-anchor="middle">5</text></g>
<text x="926" y="28.0" font-size="7.6" font-family="Liberation Sans" fill="#222" text-anchor="end">FE 123.6</text>
<text x="926" y="72.3" font-size="7.6" font-family="Liberation Sans" fill="#222" text-anchor="end">FE 100.0</text>
<text x="926" y="117.0" font-size="7.6" font-family="Liberation Sans" fill="#222" text-anchor="end">FE 76.4</text>
<text x="926" y="145.0" font-size="7.6" font-family="Liberation Sans" fill="#222" text-anchor="end">FE 61.8</text>
<text x="926" y="167.0" font-size="7.6" font-family="Liberation Sans" fill="#222" text-anchor="end">FE 50</text>
<text x="926" y="200.0" font-size="7.6" font-family="Liberation Sans" fill="#222" text-anchor="end">FE 32.8</text>
<rect x="930.5" y="13.5" width="8" height="11" fill="none" stroke="#d4d4d4" stroke-width="1" rx="1"/>
<path d="M932.5 16.5H936.5M934.5 16.5V22" stroke="#cfcfcf" stroke-width="1"/>
<rect x="0" y="0" width="1" height="545" fill="#fff"/><path d="M1.5 1V530" stroke="#444" stroke-width="1"/>
</svg>
<div class="a ax" style="left:947px;top:12.5px">135048.172</div>
<div class="a ax" style="left:947px;top:50.1px">129643.437</div>
<div class="a ax" style="left:947px;top:86.4px">124238.702</div>
<div class="a ax" style="left:947px;top:122.9px">118833.967</div>
<div class="a ax" style="left:947px;top:159.9px">113429.232</div>
<div class="a ax" style="left:947px;top:196.4px">108024.497</div>
<div class="a ax" style="left:947px;top:232.9px">102619.762</div>
<div class="a ax" style="left:947px;top:269.6px">97215.027</div>
<div class="a ax" style="left:947px;top:306.4px">91810.292</div>
<div class="a ax" style="left:947px;top:342.9px">86405.557</div>
<div class="a ax" style="left:947px;top:379.9px">81000.822</div>
<div class="a ax" style="left:947px;top:416.4px">75596.087</div>
<div class="a ax" style="left:947px;top:453.2px">70191.352</div>
<div class="a ax" style="left:947px;top:490.1px">64786.617</div>
<div class="a ax" style="left:2.0px;top:533px;letter-spacing:-0.2px">4 Mar 2025</div>
<div class="a ax" style="left:72.1px;top:533px;letter-spacing:-0.2px">14 Mar 16:00</div>
<div class="a ax" style="left:142.2px;top:533px;letter-spacing:-0.2px">25 Mar 08:00</div>
<div class="a ax" style="left:212.2px;top:533px;letter-spacing:-0.2px">5 Apr 00:00</div>
<div class="a ax" style="left:282.3px;top:533px;letter-spacing:-0.2px">15 Apr 16:00</div>
<div class="a ax" style="left:352.4px;top:533px;letter-spacing:-0.2px">26 Apr 08:00</div>
<div class="a ax" style="left:422.5px;top:533px;letter-spacing:-0.2px">7 May 00:00</div>
<div class="a ax" style="left:492.6px;top:533px;letter-spacing:-0.2px">17 May 16:00</div>
<div class="a ax" style="left:562.6px;top:533px;letter-spacing:-0.2px">28 May 08:00</div>
<div class="a ax" style="left:632.7px;top:533px;letter-spacing:-0.2px">8 Jun 00:00</div>
<div class="a ax" style="left:702.8px;top:533px;letter-spacing:-0.2px">18 Jun 16:00</div>
<div class="a ax" style="left:772.9px;top:533px;letter-spacing:-0.2px">29 Jun 08:00</div>
<div class="a ax" style="left:843.0px;top:533px;letter-spacing:-0.2px">10 Jul 00:00</div>
<div class="a ax" style="left:4px;top:4.5px;font-size:8.2px;letter-spacing:-0.45px">BTCUSD, H4:&nbsp; Bitcoin vs US Dollar</div>
<div class="a ax" style="left:946px;top:71px;width:46px;height:10px;background:#006400;color:#fff;padding-left:1px;padding-top:2px">126160.573</div>
<div class="a ax" style="left:946px;top:132px;width:46px;height:10px;background:#c0c0c0;color:#fff;padding-left:1px;padding-top:2px">117191.390</div>
</body></html>
